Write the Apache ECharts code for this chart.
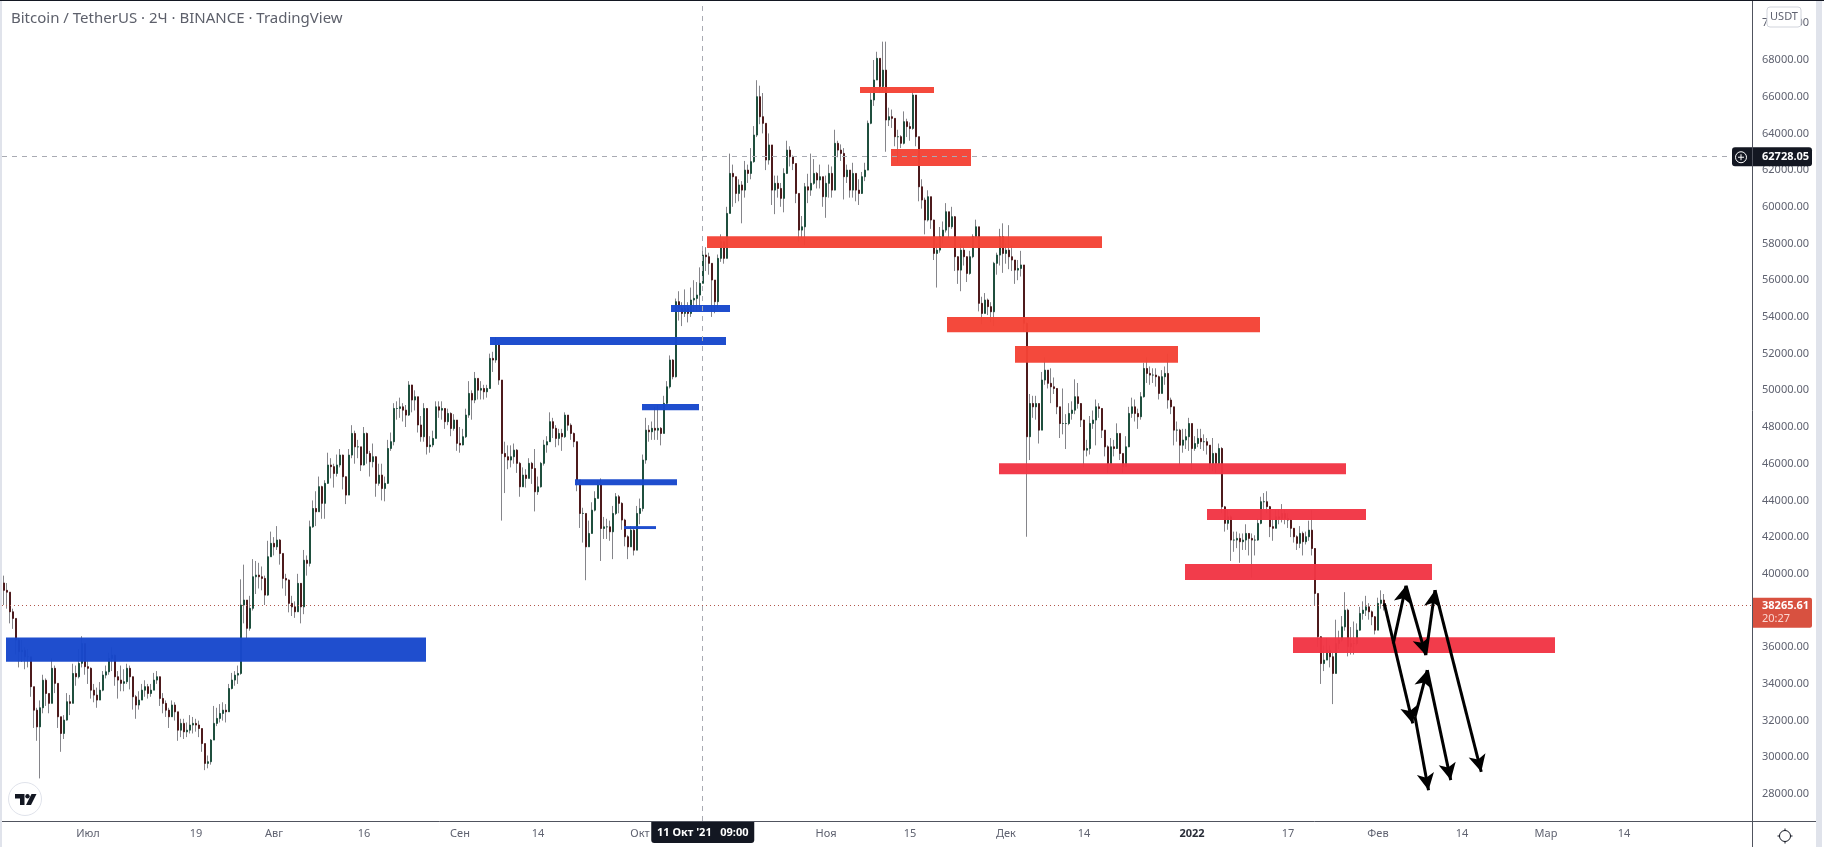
<!DOCTYPE html>
<html>
<head>
<meta charset="utf-8">
<title>Bitcoin / TetherUS</title>
<script src="https://cdn.jsdelivr.net/npm/echarts@6/dist/echarts.min.js"></script>
<style>
html,body{margin:0;padding:0;background:#fff;overflow:hidden}
#chart{width:1824px;height:847px}
</style>
</head>
<body>
<div id="chart"></div>
<script>
// 12-hour candles, first one at 2021-06-17 00:00 UTC
const firstCandle = Date.UTC(2021, 5, 17);
const candleStep = 12 * 3600 * 1000;
const firstOpen = 39500;

const closes = [
39100,39000,37930,37570,36390,35750,35840,35480,35480,33850,
32570,31660,32700,34200,33480,32940,34850,34030,32210,31300,
32030,33030,32940,34570,34390,35120,36200,34940,34850,33660,
33390,33120,33660,34480,34660,35390,35570,34390,34210,34030,
34120,34850,34390,33300,32850,33120,33660,33850,33480,33660,
34210,34390,33210,32940,32570,32210,32850,32480,31480,31850,
31390,31480,31760,31850,31760,31570,30750,29670,29760,30940,
31850,32120,32390,32570,32480,33750,34210,34480,34570,38300,
38570,37030,38120,39840,39930,39840,39750,38840,40930,41660,
41470,41840,41110,39750,39660,38390,38200,37930,39480,38200,
40740,40570,42560,43560,43380,44750,43840,44930,45930,45840,
45470,45930,46470,45290,44290,46470,47650,46920,46920,45930,
47650,46560,46110,46380,44930,45380,44650,44930,46830,47200,
49010,49010,49100,48920,48650,50290,49470,49650,48110,47470,
49010,46930,47020,47380,49100,48920,49010,48290,48740,47920,
48380,47110,47020,47470,48650,49830,49470,50650,50010,50100,
49920,50100,51740,51650,52470,50560,46560,46380,46200,46380,
46740,46020,44740,45380,45200,46020,45740,44470,44740,46020,
47020,47200,48290,47930,47380,47650,47470,48650,48100,47650,
47200,45110,43290,43290,41470,42200,43470,44110,44840,42470,
42560,42560,42290,43290,44200,43840,42930,42020,41470,42380,
41290,43290,43560,46200,47830,47740,47930,47830,47930,47650,
49290,50190,51650,50740,54830,54465,54190,54465,54190,54920,
55010,55190,55830,57370,57280,56920,56010,54830,57190,58100,
57190,59640,61820,61640,60730,61190,60910,62000,61820,62460,
63910,66000,64910,64550,62550,63370,60910,61280,61000,60460,
61820,63090,62730,62360,60730,58730,58910,61090,60910,61280,
61820,61460,61640,60550,61280,61820,60910,63460,63090,62910,
61640,62000,60910,61820,60910,60730,61640,62000,64550,65820,
66910,68090,66550,67450,64730,64910,64820,63820,63820,63460,
64640,64370,64270,66090,63820,61090,60370,59280,60550,59280,
57460,57640,58370,58730,59730,58910,59460,57280,56550,57640,
57280,56370,57280,58370,58910,54740,54190,54920,54560,54280,
56920,57370,58370,57460,57640,57280,57100,56550,56640,56830,
53650,47470,49280,49100,49280,47830,50560,51100,50380,50190,
50100,49100,48190,48190,48190,48740,48920,49650,49280,48380,
46740,46830,48190,48380,49100,49010,47830,46920,46010,46920,
46830,47650,46560,45830,46920,48740,49100,48740,48560,49650,
51190,50920,50830,50830,50740,49830,50740,50920,49470,49100,
47830,47830,47010,47290,47470,48190,46830,47100,47380,47200,
47200,47010,46010,46560,46010,46830,43650,42750,43110,41840,
41840,41930,41750,41840,42200,41930,41840,41840,42750,43930,
43930,43660,42570,42480,43110,43020,43290,43020,42930,42480,
42020,41660,42200,41750,42020,42380,41380,38930,36570,35110,
35300,35840,35480,34570,36200,36390,37110,38020,36020,36200,
36200,36930,37840,38020,38200,37930,37660,36930,38390,38570,
38265.61
];

const highs = [
39900,39500,38300,38100,37200,36500,36400,36000,35900,35400,
33300,32700,33100,34500,34300,33400,35400,35000,34000,32200,
32300,33500,33400,35100,35000,35900,36600,36100,35300,34900,
34000,33800,34100,34700,35000,35700,36000,35600,34700,35000,
34800,35100,35000,34400,33400,33600,34000,34200,34000,34000,
34600,34700,34400,33500,33100,32700,33100,33000,32400,32100,
32100,31900,32300,32200,32100,32000,31500,30600,30100,31000,
32800,32700,32900,33000,32900,34000,34600,34700,35000,39700,
40500,38500,38800,40800,40700,40600,40400,39900,41800,42300,
42000,42600,41900,41000,40000,39700,38800,38500,40000,39500,
41300,41000,42900,44000,44500,45300,44800,45100,46600,46300,
46000,46500,46800,46500,45300,46800,48100,47800,47300,46900,
48000,47700,46700,47100,46400,46000,46000,45300,47300,47700,
49300,49400,49600,49300,49200,50500,50300,50000,49600,48600,
49300,49000,47500,47800,49400,49400,49400,49000,49000,48800,
48700,48300,48000,47900,49000,50500,50000,51000,50500,50500,
50300,50300,52000,52100,52900,52700,50560,47200,47000,47000,
47100,46800,46100,45800,45700,46300,46100,46800,45300,46100,
47300,47500,48800,48500,48100,47900,47900,48800,48600,48200,
47700,47200,45000,43600,43200,42900,43900,44500,45100,45200,
43100,43000,42900,43700,44400,44300,43900,43000,42100,42600,
42500,43700,44100,46500,48500,48100,48300,49100,49200,48000,
49700,50500,51900,51700,55000,55400,54800,55500,54800,55600,
56000,55900,56700,57800,57800,57500,56900,56000,57400,58500,
58100,60000,62900,62300,61500,61500,61400,62500,62300,63200,
64400,66900,66600,66200,64500,64000,63300,61700,61700,61300,
62100,63600,63300,62800,62300,60700,59500,61300,61800,62900,
62600,61900,62300,61600,61700,62300,62200,64200,63600,63400,
63200,62300,62000,62400,61800,61500,61900,62400,64700,66200,
68000,68450,68000,69000,69000,65400,65300,64600,64200,63900,
65200,64800,64600,66400,66000,63800,61500,60500,60900,60500,
59300,58000,58900,59200,60200,59700,60000,59500,57300,58000,
57900,57300,57600,58500,59300,58900,55100,55300,55000,54800,
57000,57500,58800,59100,58000,59000,57900,57100,57100,57600,
56800,53700,49800,49700,49700,49200,51000,51800,51100,51200,
50700,50100,49100,50100,48700,49300,49400,50600,50400,49300,
48400,47300,48600,48900,49500,49300,49000,47800,47000,47400,
47300,48200,47600,46500,47500,49100,49600,49500,49000,49900,
51500,51800,51300,51200,51200,50800,51100,51300,52000,49600,
49100,48300,47900,47900,47900,48500,48100,47500,47900,47900,
47600,47400,47000,47400,46600,47100,46900,43700,43500,43200,
42300,42300,42200,42200,42700,42200,42200,42100,43000,44200,
44400,44500,43700,43000,43500,43500,43800,43500,43300,43000,
42500,42100,42600,42300,42300,42900,43470,41400,38900,36600,
36100,36500,36100,35700,37500,36900,37700,39000,38100,37100,
37400,37300,38200,38500,38800,38400,38000,37700,38700,39100,
38900
];

const lows = [
38300,38100,37300,37000,35600,34900,35200,34800,34900,33300,
31600,30900,28850,32400,32800,32400,33000,33500,31600,30300,
31000,32000,32300,33000,33900,34300,34900,34500,34000,33200,
33000,32700,33200,33600,34300,34500,34700,33900,33200,33600,
33600,34000,33700,32600,32100,32600,33200,33300,33200,33300,
33700,34000,32800,32400,32200,31600,32200,32000,30900,31100,
31000,31100,31300,31300,31400,31100,30300,29300,29400,29600,
31000,31700,31900,32000,31900,32500,33700,33900,34000,34500,
37300,36500,36900,38000,38900,39200,39100,38300,38800,41000,
41000,41300,40500,39200,38800,37900,37700,37600,38000,37300,
37800,39900,40400,42500,42600,43500,43000,43000,44900,45200,
44700,45300,45800,44600,43800,44300,46300,46000,46300,45600,
45900,46000,45300,45800,44200,44800,44000,43950,44900,46700,
47000,48400,48500,48300,48000,48600,48800,48900,47700,47200,
47200,46500,46600,46900,47400,48500,48400,47900,48100,47500,
47800,46700,46600,47000,47400,48500,48400,49300,49500,49500,
49500,49600,50100,51000,51500,50300,42900,44400,45700,45800,
46000,45500,44200,44900,44700,45400,44900,43400,44300,44700,
45900,46600,47200,47400,46900,47000,46700,47400,47800,47300,
46900,44500,42500,41700,39650,41800,42200,43400,44300,40700,
41900,41900,41800,40800,43200,43300,42400,41500,40800,41500,
41000,41300,42700,43400,46000,47200,47300,47300,47300,47000,
47700,49200,50100,50600,50700,53800,53500,54000,53700,54000,
54300,54300,54400,55900,56500,56300,54000,54200,54500,57000,
56900,57200,59700,60000,60200,60300,59100,60500,61300,61500,
62400,63800,64500,64000,62000,62300,60100,59600,60500,60000,
59700,61800,62200,62000,60200,58100,58300,57900,60200,60600,
61200,61000,61000,60000,59400,60500,60500,60900,62700,62500,
60400,61300,60500,60500,60300,60100,60700,61400,62000,64500,
65500,66900,66200,66300,63000,64400,64300,63300,62400,63200,
63400,63800,63600,64200,63300,60300,59900,58500,59200,58800,
57100,55600,57500,58000,58600,58300,58800,56500,55800,55400,
56800,55900,56300,57200,58300,54300,53600,54300,54100,53700,
53500,56300,56800,56400,56900,56600,56500,55800,56000,56200,
53200,42020,46200,48500,48400,47100,47900,50300,50100,49300,
49800,48700,47400,47600,46800,48100,48400,48700,49000,48000,
45800,46400,46500,47900,47000,48500,47400,46400,45500,46500,
46400,46800,46200,45500,45900,46900,48500,48300,47900,48400,
49600,50400,50300,50400,50200,49500,49900,50300,49000,48700,
47000,47200,45950,46600,46800,46700,45650,46700,46900,46800,
46700,46500,45700,45600,45500,45900,43300,42300,42400,40700,
41200,41400,40600,41300,41300,41000,39800,41000,41800,42700,
43500,43300,42000,41800,42500,42700,42800,42700,42500,42000,
41700,41300,41400,41000,41600,41800,41000,38300,36000,34000,
34700,35300,34900,32900,34600,35900,36300,36900,35500,35600,
35600,36100,36900,37500,37700,37500,37200,36700,37000,38100,
38000
];

// Support and resistance zones
const zoneStarts = ['2021-06-17T08:00','2021-09-06T00:00','2021-10-06T04:00','2021-10-01T08:00','2021-09-20T04:00','2021-09-28T08:00',
  '2021-11-06T16:00','2021-11-11T20:00','2021-10-12T04:00','2021-11-21T04:00','2021-12-02T12:00',
  '2021-11-29T20:00','2022-01-03T12:00','2021-12-30T20:00','2022-01-17T20:00'];
const zoneEnds = ['2021-08-26T08:00','2021-10-15T08:00','2021-10-16T00:00','2021-10-10T20:00','2021-10-07T04:00','2021-10-03T16:00',
  '2021-11-19T00:00','2021-11-25T04:00','2021-12-17T00:00','2022-01-12T08:00','2021-12-29T16:00',
  '2022-01-26T16:00','2022-01-30T00:00','2022-02-10T00:00','2022-03-02T12:00'];
const zoneTops = [36530,52900,54650,49250,45160,42600,66530,63150,58400,53990,52410,46030,43530,40530,36550];
const zoneBottoms = [35210,52470,54270,48920,44830,42440,66200,62220,57750,53170,51500,45430,42930,39660,35680];
const zoneColors = ['#1848cc','#1848cc','#1848cc','#1848cc','#1848cc','#1848cc',
  '#f44336','#f44336','#f44336','#f44336','#f44336','#f23645','#f23645','#f23645','#f23645'];

// Projected path arrows: [from date, from price, to date, to price]
const arrowPaths = [
  ['2022-02-02T01:00',38390,'2022-02-06T19:00',31845],
  ['2022-02-07T04:00',32210,'2022-02-09T10:00',28210],
  ['2022-02-07T04:00',32210,'2022-02-09T05:00',34750],
  ['2022-02-09T05:00',34750,'2022-02-13T03:00',28760],
  ['2022-02-03T13:00',36200,'2022-02-05T16:00',39350],
  ['2022-02-05T16:00',39350,'2022-02-08T23:00',35570],
  ['2022-02-08T23:00',35570,'2022-02-10T12:00',39110],
  ['2022-02-10T12:00',39110,'2022-02-18T05:00',29210]
];

const priceTicks = [28000,30000,32000,34000,36000,38000,40000,42000,44000,46000,48000,50000,52000,54000,56000,58000,60000,62000,64000,66000,68000,70000];
const shownPriceTicks = priceTicks.filter(p => p !== 38000);
const timeTickDates = ['2021-07-01','2021-07-19','2021-08-01','2021-08-16','2021-09-01','2021-09-14','2021-10-01','2021-11-01','2021-11-15','2021-12-01','2021-12-14','2022-01-01','2022-01-17','2022-02-01','2022-02-15','2022-03-01','2022-03-14'];
const timeTickLabels = ['Июл','19','Авг','16','Сен','14','Окт','Ноя','15','Дек','14','2022','17','Фев','14','Мар','14'];

const crossPrice = 62728.05;
const crossTime = '2021-10-11T09:00';
const crossTimeText = "11 Окт '21   09:00";
const lastPrice = 38265.61;
const barCountdown = '20:27';
const chartTitle = 'Bitcoin / TetherUS · 2Ч · BINANCE · TradingView';

const utc = s => Date.parse(s + 'Z');
const tickMs = timeTickDates.map(d => utc(d + 'T00:00'));
const candleTime = i => firstCandle + i * candleStep;
const opens = closes.map((c, i) => i === 0 ? firstOpen : closes[i - 1]);

const wickData = closes.map((c, i) => [candleTime(i), opens[i], c, lows[i], highs[i]]);
const bodyData = closes.map((c, i) => [candleTime(i), opens[i], c, Math.min(opens[i], c), Math.max(opens[i], c)]);
const zoneData = zoneStarts.map((s, i) => [utc(s), utc(zoneEnds[i]), zoneTops[i], zoneBottoms[i], i]);

const chart = echarts.init(document.getElementById('chart'), null, {renderer: 'canvas'});
const uiFont = '"Noto Sans", "Liberation Sans", sans-serif';

chart.setOption({
  animation: false,
  backgroundColor: '#ffffff',
  title: {
    text: chartTitle, left: 6, top: 6,
    textStyle: {fontFamily: uiFont, fontSize: 15, fontWeight: 'normal', color: '#5d606b'}
  },
  grid: {left: 2, right: 72, top: 0, bottom: 26, containLabel: false},
  xAxis: {
    // millisecond timestamps on a linear scale, labelled at the listed dates
    type: 'value',
    min: utc('2021-06-16T16:00'), max: utc('2022-04-04T08:00'),
    splitLine: {show: false},
    axisLine: {lineStyle: {color: '#50535e', width: 1}},
    axisTick: {show: false},
    axisLabel: {
      customValues: tickMs,
      hideOverlap: false, showMinLabel: true, showMaxLabel: true,
      margin: 7, color: '#5f6270', fontFamily: uiFont, fontSize: 11,
      formatter: v => {
        const k = timeTickLabels[tickMs.indexOf(v)];
        return k === '2022' ? '{year|2022}' : k;
      },
      rich: {year: {fontWeight: 'bold', color: '#2a2e39', fontSize: 11, fontFamily: uiFont}}
    }
  },
  yAxis: {
    type: 'value', position: 'right', scale: true,
    min: 26530, max: 71270,
    splitLine: {show: false},
    axisLine: {show: true, lineStyle: {color: '#50535e', width: 1}},
    axisTick: {show: false},
    axisLabel: {
      customValues: shownPriceTicks,
      showMinLabel: true, showMaxLabel: true, hideOverlap: false,
      margin: 10, padding: [2, 0, 0, 0], color: '#5f6270', fontFamily: uiFont, fontSize: 11,
      formatter: v => v.toFixed(2)
    }
  },
  series: [
    {
      name: 'Range', type: 'candlestick', data: wickData, barWidth: 1, z: 2, silent: true,
      itemStyle: {color: '#85858a', color0: '#85858a', borderColor: '#85858a', borderColor0: '#85858a', borderWidth: 1}
    },
    {
      name: 'Body', type: 'candlestick', data: bodyData, barWidth: 2, z: 3, silent: true,
      itemStyle: {color: '#1f4f3e', color0: '#4d1a1c', borderColor: '#1f4f3e', borderColor0: '#4d1a1c', borderWidth: 1}
    },
    {
      name: 'Zones', type: 'custom', data: zoneData, z: 4, silent: true,
      encode: {x: [0, 1], y: [2, 3]},
      renderItem: (params, api) => {
        const a = api.coord([api.value(0), api.value(2)]);
        const b = api.coord([api.value(1), api.value(3)]);
        return {
          type: 'rect',
          shape: {x: a[0], y: a[1], width: b[0] - a[0], height: b[1] - a[1]},
          style: {fill: zoneColors[api.value(4)], opacity: 0.97}
        };
      }
    },
    {
      name: 'Cursor', type: 'line', data: [], z: 5, silent: true,
      markLine: {
        silent: true, animation: false, symbol: 'none', label: {show: false},
        lineStyle: {type: [5, 5], color: '#a9abb3', width: 1},
        data: [{yAxis: crossPrice}, {xAxis: utc(crossTime)}]
      }
    },
    {
      name: 'Last', type: 'line', data: [], z: 5, silent: true,
      markLine: {
        silent: true, animation: false, symbol: 'none', label: {show: false},
        lineStyle: {type: [1, 3], color: '#b0574c', width: 1},
        data: [{yAxis: lastPrice}]
      }
    },
    {
      name: 'Arrows', type: 'line', data: [], z: 6, silent: true,
      markLine: {
        silent: true, animation: false, precision: 2,
        symbol: ['none', 'arrow'], symbolSize: [13, 17],
        label: {show: false},
        lineStyle: {type: 'solid', color: '#000000', width: 3},
        data: arrowPaths.map(p => [{coord: [utc(p[0]), p[1]]}, {coord: [utc(p[2]), p[3]]}])
      }
    }
  ]
});

// Price-scale and time-scale tags follow the axes
const yCross = chart.convertToPixel({yAxisIndex: 0}, crossPrice);
const yLast = chart.convertToPixel({yAxisIndex: 0}, lastPrice);
const xCross = chart.convertToPixel({xAxisIndex: 0}, utc(crossTime));
const tagFont = 'bold 11px ' + uiFont;
const ink = '#131722';

chart.setOption({
  graphic: [
    {type: 'rect', shape: {x: 0, y: 0, width: 2, height: 847}, style: {fill: '#e0e3eb'}, z: 20},
    {type: 'rect', shape: {x: 1816, y: 0, width: 6, height: 847}, style: {fill: '#e0e3eb'}, z: 20},
    {type: 'rect', shape: {x: 0, y: 0, width: 1824, height: 1}, style: {fill: '#131722'}, z: 20},
    {type: 'line', shape: {x1: 1752, y1: 821.5, x2: 1816, y2: 821.5}, style: {stroke: '#50535e', lineWidth: 1}, z: 20},
    {type: 'line', shape: {x1: 1752.5, y1: 821, x2: 1752.5, y2: 847}, style: {stroke: '#50535e', lineWidth: 1}, z: 20},

    // currency button over the top of the price scale
    {type: 'rect', shape: {x: 1767, y: 7, width: 34, height: 20, r: 3}, style: {fill: '#ffffff', stroke: '#d1d4dc', lineWidth: 1}, z: 20},
    {type: 'text', x: 1784, y: 17, style: {text: 'USDT', fill: '#5f6270', font: '11px ' + uiFont, align: 'center', verticalAlign: 'middle'}, z: 21},

    // cursor price tag and add button
    {type: 'rect', shape: {x: 1732, y: yCross - 9.5, width: 20, height: 19, r: [3, 0, 0, 3]}, style: {fill: ink}, z: 20},
    {type: 'circle', shape: {cx: 1741, cy: yCross + 0.5, r: 5.5}, style: {fill: 'none', stroke: '#ffffff', lineWidth: 1}, z: 21},
    {type: 'line', shape: {x1: 1738, y1: yCross + 0.5, x2: 1744, y2: yCross + 0.5}, style: {stroke: '#ffffff', lineWidth: 1}, z: 21},
    {type: 'line', shape: {x1: 1741, y1: yCross - 2.5, x2: 1741, y2: yCross + 3.5}, style: {stroke: '#ffffff', lineWidth: 1}, z: 21},
    {type: 'rect', shape: {x: 1753, y: yCross - 9.5, width: 59, height: 19, r: [0, 3, 3, 0]}, style: {fill: ink}, z: 20},
    {type: 'text', x: 1762, y: yCross + 0.5, style: {text: crossPrice.toFixed(2), fill: '#ffffff', font: tagFont, verticalAlign: 'middle'}, z: 21},

    // last price tag with the bar countdown
    {type: 'rect', shape: {x: 1753, y: yLast - 8, width: 59, height: 30, r: [0, 2, 2, 0]}, style: {fill: '#d85140'}, z: 20},
    {type: 'text', x: 1762, y: yLast, style: {text: lastPrice.toFixed(2), fill: '#ffffff', font: tagFont, verticalAlign: 'middle'}, z: 21},
    {type: 'text', x: 1762, y: yLast + 13, style: {text: barCountdown, fill: '#fbd6d0', font: '11px ' + uiFont, verticalAlign: 'middle'}, z: 21},

    // cursor time tag
    {type: 'rect', shape: {x: xCross - 51, y: 822, width: 103, height: 21, r: [0, 0, 3, 3]}, style: {fill: ink}, z: 20},
    {type: 'text', x: xCross + 0.5, y: 833, style: {text: crossTimeText, fill: '#ffffff', font: tagFont, align: 'center', verticalAlign: 'middle'}, z: 21},

    // watermark badge
    {type: 'circle', shape: {cx: 25, cy: 799, r: 16.5}, style: {fill: '#ffffff', stroke: '#e0e3eb', lineWidth: 1}, z: 20},
    {type: 'polygon', shape: {points: [[15, 794], [24.5, 794], [24.5, 805], [20, 805], [20, 798.5], [15, 798.5]]}, style: {fill: '#131722'}, z: 21},
    {type: 'circle', shape: {cx: 27.5, cy: 796.2, r: 2.2}, style: {fill: '#131722'}, z: 21},
    {type: 'polygon', shape: {points: [[31.5, 794], [36.5, 794], [31, 805], [26, 805]]}, style: {fill: '#131722'}, z: 21},

    // settings gear
    {type: 'circle', shape: {cx: 1785, cy: 836, r: 5.5}, style: {fill: 'none', stroke: '#131722', lineWidth: 1}, z: 20},
    {type: 'line', shape: {x1: 1785, y1: 828.5, x2: 1785, y2: 830.5}, style: {stroke: '#131722', lineWidth: 1}, z: 20},
    {type: 'line', shape: {x1: 1785, y1: 841.5, x2: 1785, y2: 843.5}, style: {stroke: '#131722', lineWidth: 1}, z: 20},
    {type: 'line', shape: {x1: 1777.5, y1: 836, x2: 1779.5, y2: 836}, style: {stroke: '#131722', lineWidth: 1}, z: 20},
    {type: 'line', shape: {x1: 1790.5, y1: 836, x2: 1792.5, y2: 836}, style: {stroke: '#131722', lineWidth: 1}, z: 20}
  ]
});
</script>
</body>
</html>
